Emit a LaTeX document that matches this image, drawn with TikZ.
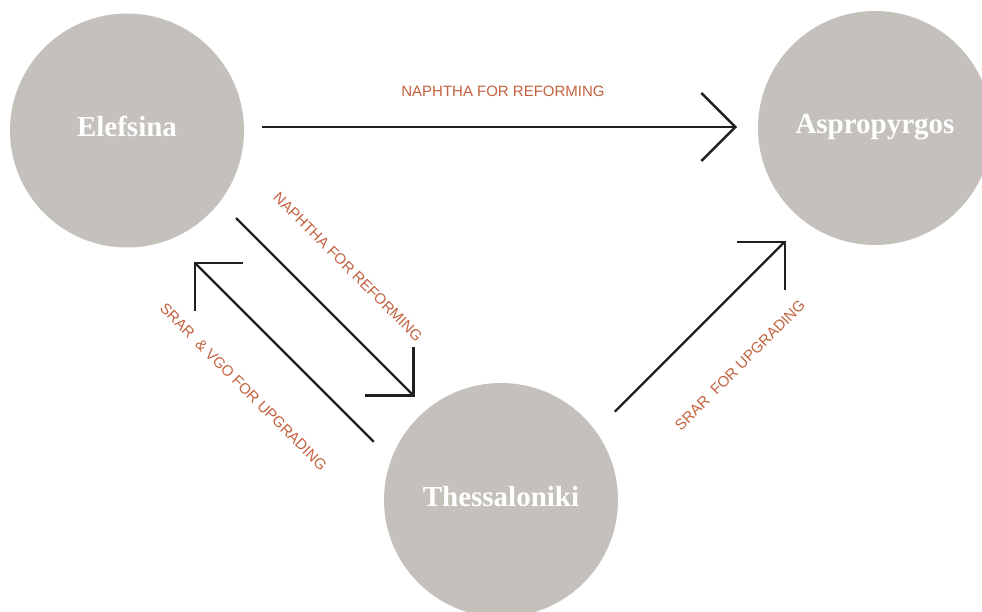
\documentclass[tikz,border=0pt]{standalone}
\usepackage{fontspec}
\setmainfont{Liberation Serif}
\newfontfamily\lblfont{Liberation Sans}
\usetikzlibrary{arrows.meta}
\definecolor{cgrey}{HTML}{C4C0BB}
\definecolor{corange}{HTML}{C3603E}
\definecolor{cline}{HTML}{231F20}
\tikzset{mn/.append style={circle,fill=cgrey,minimum size=234pt,inner sep=0pt,text=white,font=\bfseries\fontsize{29}{30}\selectfont,text height=20pt,text depth=8pt}}
\tikzset{lb/.append style={text=corange,font=\lblfont\fontsize{15}{18}\selectfont,inner sep=0pt}}
\tikzset{fl/.append style={draw=cline,line width=2.4pt,-{Straight Barb[length=34pt,width=68pt]}}}

\begin{document}
\begin{tikzpicture}[x=1pt,y=-1pt]
                \useasboundingbox (0,0) rectangle (982,612);
                % cities
                \node[mn] (e) at (127,130.5) {Elefsina};
                \node[mn] (a) at (875,128) {Aspropyrgos};
                \node[mn] (t) at (501,500) {Thessaloniki};
                % flows
                \draw[fl,shorten <=135pt,shorten >=138pt] ([yshift=3.5pt]e.center) -- ([yshift=1pt]a.center);
                \draw[fl,shorten <=139pt,shorten >=134pt] ([xshift=10.75pt,yshift=10.75pt]e.center) -- ([xshift=8.5pt,yshift=8.5pt]t.center);
                \draw[fl,shorten <=131pt,shorten >=140pt] ([xshift=-34.5pt,yshift=-34.5pt]t.center) -- ([xshift=-32.25pt,yshift=-32.25pt]e.center);
                \draw[fl,shorten <=143pt,shorten >=142.5pt] ([xshift=12.75pt,yshift=-12.75pt]t.center) -- ([xshift=11.75pt,yshift=-11.75pt]a.center);
                % labels
                \node[lb] (l1) at (503,91.5) {NAPHTHA FOR REFORMING};
                \node[lb,rotate=-45] (l2) at (348,267) {NAPHTHA FOR REFORMING};
                \node[lb,rotate=-45] (l3) at (243.5,387) {SRAR\ \ \& VGO FOR UPGRADING};
                \node[lb,rotate=45] (l4) at (740,365) {SRAR\ \ FOR UPGRADING};
            \end{tikzpicture}
\end{document}
